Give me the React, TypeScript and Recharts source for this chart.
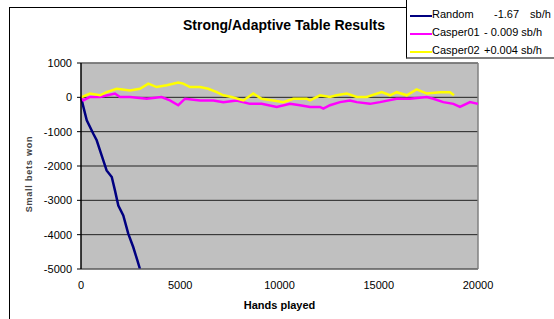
import React from 'react';
import {
  LineChart,
  Line,
  XAxis,
  YAxis,
  CartesianGrid,
  ReferenceLine,
} from 'recharts';

// values
const randomHands = [0, 290, 620, 790, 1040, 1290, 1550, 1710, 1880, 2130, 2380, 2630, 2840, 2970];
const randomWon = [0, -670, -1060, -1250, -1690, -2130, -2320, -2710, -3150, -3440, -3970, -4360, -4750, -5000];

const casper01Hands = [
  0, 120, 450, 960, 1710, 1960, 2470, 3310, 4060, 4480, 4900, 5240, 6000, 6670, 7170, 7840, 8510, 9100, 9860,
  10530, 11030, 11540, 12040, 12210, 12540, 13050, 13550, 13890, 14560, 15060, 15900, 16570, 17420, 17750,
  18250, 18760, 19090, 19600, 20000,
];
const casper01Won = [
  0, -90, 10, 10, 110, 10, 10, -40, 10, -90, -230, -40, -90, -90, -140, -90, -190, -190, -280,
  -190, -230, -280, -280, -330, -230, -140, -90, -140, -190, -140, -40, -40, 10, -40,
  -140, -190, -280, -140, -190,
];

const casper02Hands = [
  0, 450, 960, 1290, 1800, 2470, 2970, 3390, 3810, 4320, 4900, 5150, 5490, 6000, 6410, 6840, 7170, 7590,
  8180, 8680, 9100, 9690, 10190, 10700, 11370, 11540, 12040, 12540, 12880, 13390, 13890, 14390, 15150,
  15570, 15900, 16410, 16910, 17420, 18090, 18590, 18790,
];
const casper02Won = [
  0, 110, 60, 150, 250, 200, 250, 400, 300, 350, 430, 400, 300, 300, 250, 150, 60, 10,
  -90, 110, -40, -90, -140, -40, -40, -90, 60, 10, 60, 110, 10, 10, 150,
  60, 150, 60, 230, 110, 150, 150, 60,
];

const seriesNames = ['Random', 'Casper01', 'Casper02'];
const seriesRates = ['-1.67', '- 0.009', '+0.004'];
const seriesColors = ['#000080', '#FF00FF', '#FFFF00'];

const xTicks = [0, 5000, 10000, 15000, 20000];
const yTicks = [-5000, -4000, -3000, -2000, -1000, 0, 1000];

const toRows = (hands: number[], won: number[]) => hands.map((h, i) => ({ hands: h, won: won[i] }));

const seriesData = [
  toRows(randomHands, randomWon),
  toRows(casper01Hands, casper01Won),
  toRows(casper02Hands, casper02Won),
];

const FONT = 'Arial, "Liberation Sans", sans-serif';

const ChartLegend = () => (
  <div
    style={{
      position: 'absolute',
      left: 406,
      top: -1,
      width: 160,
      height: 60,
      background: '#fff',
      borderLeft: '1px solid #000',
      borderTop: '1px solid #000',
      borderBottom: '2px solid #808080',
      fontFamily: FONT,
      fontSize: 11,
      color: '#000',
      boxSizing: 'border-box',
      paddingTop: 8,
    }}
  >
    {seriesNames.map((name, i) => (
      <div key={name} style={{ position: 'relative', height: 18 }}>
        <svg width={22} height={4} style={{ position: 'absolute', left: 3, top: 6 }}>
          <line x1={0} y1={2} x2={22} y2={2} stroke={seriesColors[i]} strokeWidth={2} />
        </svg>
        <span style={{ position: 'absolute', left: 25, top: 0 }}>{name}</span>
        <span style={{ position: 'absolute', left: i === 0 ? 87 : 77, top: 0 }}>
          {seriesRates[i]}
          {i === 0 ? <span style={{ marginLeft: 11 }}>sb/h</span> : ' sb/h'}
        </span>
      </div>
    ))}
  </div>
);

const App: React.FC = () => {
  return (
    <div
      style={{
        position: 'absolute',
        left: 0,
        top: 0,
        width: 554,
        height: 319,
        overflow: 'hidden',
        background: '#fff',
        fontFamily: FONT,
      }}
    >
      <div
        style={{
          position: 'absolute',
          left: 9,
          top: 7,
          width: 700,
          height: 500,
          border: '1px solid #000',
        }}
      />
      <div
        style={{
          position: 'absolute',
          left: 0,
          width: 568,
          top: 17,
          textAlign: 'center',
          fontSize: 14,
          fontWeight: 'bold',
          color: '#000',
        }}
      >
        Strong/Adaptive Table Results
      </div>
      <div style={{ position: 'absolute', left: 0, top: 0 }}>
        <LineChart width={554} height={319} margin={{ top: 63, right: 76, left: 0, bottom: 0 }}>
          <CartesianGrid vertical={false} stroke="#222" fill="#C0C0C0" fillOpacity={1} />
          <XAxis
            type="number"
            dataKey="hands"
            domain={[0, 20000]}
            ticks={xTicks}
            height={50}
            tickSize={0}
            tickMargin={12}
            tickLine={false}
            axisLine={{ stroke: '#777' }}
            tick={{ fill: '#000', fontSize: 11, fontFamily: FONT }}
            label={{
              value: 'Hands played',
              position: 'insideBottom',
              offset: 10,
              fill: '#000',
              fontSize: 11,
              fontWeight: 'bold',
              fontFamily: FONT,
            }}
          />
          <YAxis
            type="number"
            dataKey="won"
            domain={[-5000, 1000]}
            ticks={yTicks}
            width={81}
            allowDataOverflow
            tickSize={4}
            tickMargin={5}
            tickLine={{ stroke: '#000' }}
            axisLine={{ stroke: '#000', strokeWidth: 1.5 }}
            tick={{ fill: '#000', fontSize: 11, fontFamily: FONT }}
            label={{
              content: () => (
                <text
                  x={32}
                  y={174}
                  transform="rotate(-90 32 174)"
                  textAnchor="middle"
                  fontSize={9}
                  fontWeight="bold"
                  letterSpacing={0.8}
                  fill="#444"
                  fontFamily={FONT}
                >
                  Small bets won
                </text>
              ),
            }}
          />
          <ReferenceLine y={1000} stroke="#808080" strokeWidth={1.5} />
          <ReferenceLine x={20000} stroke="#808080" strokeWidth={1.5} />
          {seriesNames.map((name, i) => (
            <Line
              key={name}
              data={seriesData[i]}
              dataKey="won"
              name={name}
              stroke={seriesColors[i]}
              strokeWidth={2.5}
              dot={false}
              type="linear"
              isAnimationActive={false}
            />
          ))}
        </LineChart>
      </div>
      <ChartLegend />
    </div>
  );
};

export default App;
